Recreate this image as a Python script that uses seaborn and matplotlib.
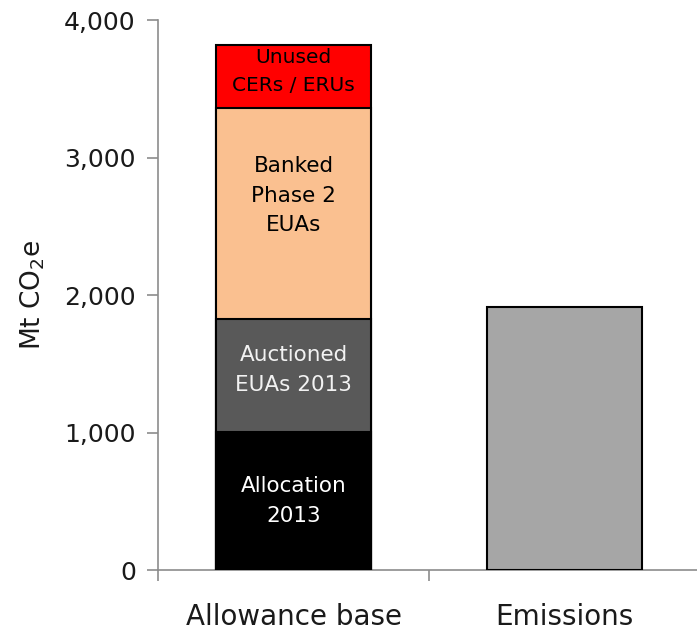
import matplotlib
matplotlib.use("Agg")
import matplotlib.pyplot as plt
import seaborn as sns
import numpy as np
import pandas as pd

# Categories on the x axis
categories = ["Allowance base", "Emissions"]

# Components of the allowance base (Mt CO2e), bottom to top
layer_names = ["Allocation\n2013", "Auctioned\nEUAs 2013", "Banked\nPhase 2\nEUAs", "Unused\nCERs / ERUs"]
layer_values = [1006, 819, 1537, 454]
layer_colors = ["#000000", "#595959", "#FAC090", "#FF0000"]
layer_text_colors = ["white", "#F2F2F2", "black", "black"]

# Verified emissions (Mt CO2e)
emissions_value = [1915]
emissions_color = "#A6A6A6"

yticks = [0, 1000, 2000, 3000, 4000]

sns.set_theme(style="white")
plt.rcParams["font.family"] = ["DejaVu Sans"]

fig = plt.figure(figsize=(6.97, 6.30), dpi=100)
ax = fig.add_axes([0.2267, 0.0952, 0.7780, 0.8730])

bar_width = 0.57
cumulative = np.cumsum(layer_values)

# Stacked bar: draw cumulative totals from the top layer down
for i in reversed(range(len(layer_values))):
    df = pd.DataFrame({"cat": [categories[0]], "val": [cumulative[i]]})
    sns.barplot(data=df, x="cat", y="val", order=categories, color=layer_colors[i],
                saturation=1, width=bar_width, edgecolor="black", linewidth=1.5,
                ax=ax, errorbar=None)

df_em = pd.DataFrame({"cat": [categories[1]], "val": emissions_value})
sns.barplot(data=df_em, x="cat", y="val", order=categories, color=emissions_color,
            saturation=1, width=bar_width, edgecolor="black", linewidth=1.5,
            ax=ax, errorbar=None)

# Segment labels
bottoms = np.concatenate([[0], cumulative[:-1]])
label_offsets = [0, 40, 130, 35]
label_sizes = [15.5, 15.5, 15.5, 14.5]
for name, b, v, tc, off, fs in zip(layer_names, bottoms, layer_values, layer_text_colors,
                                   label_offsets, label_sizes):
    ax.text(0, b + v / 2 + off, name, ha="center", va="center", color=tc,
            fontsize=fs, linespacing=1.6)

ax.set_xlim(-0.5, 1.5)
ax.set_ylim(0, 4000)
ax.set_yticks(yticks)
ax.set_yticklabels([f"{t:,}" for t in yticks], fontsize=18, color="#1a1a1a")
ax.set_xticks([0, 1])
ax.set_xticklabels(categories, fontsize=20, color="#1a1a1a")
ax.set_xticks([-0.5, 0.5, 1.5], minor=True)
ax.tick_params(axis="x", which="major", length=0, pad=24)
ax.tick_params(axis="x", which="minor", length=8, width=1.2, color="#8c8c8c", direction="out", bottom=True)
ax.tick_params(axis="y", which="major", length=8, width=1.2, color="#8c8c8c", direction="out", left=True, pad=8)
ax.set_xlabel("")
ax.set_ylabel("Mt CO$_2$e", fontsize=19, color="#1a1a1a", labelpad=12)

for side in ["top", "right"]:
    ax.spines[side].set_visible(False)
for side in ["left", "bottom"]:
    ax.spines[side].set_color("#8c8c8c")
    ax.spines[side].set_linewidth(1.2)
ax.spines["bottom"].set_zorder(0)

fig.savefig("out.png", dpi=100)
